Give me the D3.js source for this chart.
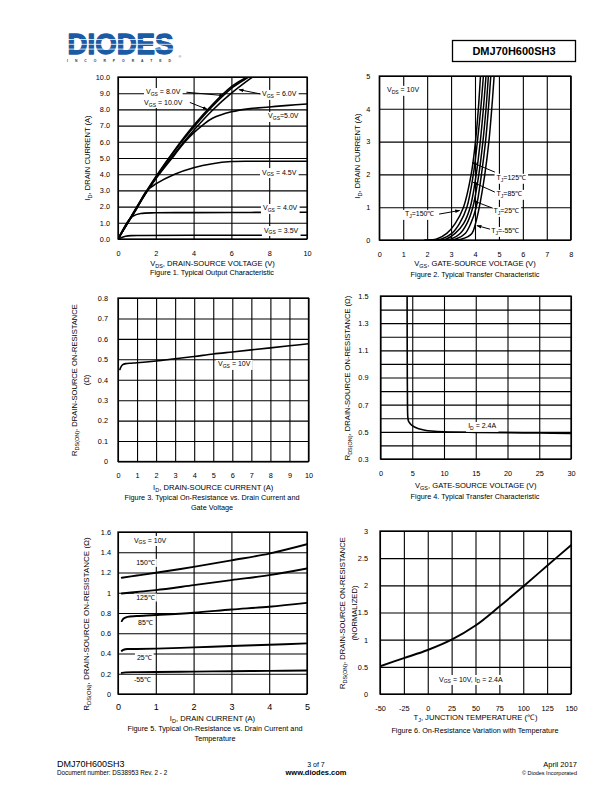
<!DOCTYPE html>
<html><head><meta charset="utf-8">
<script src="https://cdn.jsdelivr.net/npm/d3@7"></script>
<style>
body{margin:0;background:#fff}
svg{display:block}
text{font-family:"Liberation Sans",Arial,Helvetica,sans-serif;fill:#000}
</style>
</head><body>
<svg id="page" width="612" height="792"></svg>
<script>
// ---------------- DATA ----------------
// Figure 1: ID vs VDS
const fig1XTicks = [0, 2, 4, 6, 8, 10];
const fig1XLabels = ["0", "2", "4", "6", "8", "10"];
const fig1YTicks = [0, 1, 2, 3, 4, 5, 6, 7, 8, 9, 10];
const fig1YLabels = ["0.0", "1.0", "2.0", "3.0", "4.0", "5.0", "6.0", "7.0", "8.0", "9.0", "10.0"];
const fig1Vgs10 = [[0,0],[0.5,1.0],[1,2.0],[1.5,2.95],[2,3.85],[3,5.5],[4,7.0],[5,8.3],[6,9.4],[6.8,10.0],[7,10.2]];
const fig1Vgs8  = [[0,0],[0.5,0.98],[1,1.95],[1.5,2.9],[2,3.8],[3,5.45],[4,6.9],[5,8.2],[6,9.3],[6.9,10.0],[7.1,10.2]];
const fig1Vgs6  = [[0,0],[0.5,0.97],[1,1.93],[1.5,2.88],[2,3.75],[3,5.3],[4,6.7],[5,7.95],[6,9.0],[7,9.9],[7.3,10.15]];
const fig1Vgs5  = [[0,0],[0.5,0.97],[1,1.93],[1.5,2.88],[2,3.72],[3,5.2],[3.5,5.95],[4,6.55],[4.5,7.05],[5,7.45],[6,7.85],[7,8.05],[8,8.15],[9,8.25],[10,8.33]];
const fig1Vgs45 = [[0,0],[0.5,0.97],[1,1.9],[1.5,2.95],[2,3.4],[3,4.0],[4,4.4],[5,4.65],[6,4.78],[7,4.8],[8,4.8],[10,4.8]];
const fig1Vgs40 = [[0,0],[0.3,0.65],[0.5,1.05],[0.8,1.42],[1.2,1.57],[2,1.62],[4,1.63],[7,1.64],[10,1.65]];
const fig1Vgs35 = [[0,0],[0.2,0.1],[0.4,0.17],[0.7,0.21],[1.2,0.22],[4,0.23],[10,0.23]];

// Figure 2: ID vs VGS (transfer)
const fig2XTicks = [0, 1, 2, 3, 4, 5, 6, 7, 8];
const fig2XLabels = ["0", "1", "2", "3", "4", "5", "6", "7", "8"];
const fig2YTicks = [0, 1, 2, 3, 4, 5];
const fig2YLabels = ["0", "1", "2", "3", "4", "5"];
const fig2T150 = [[1.9,0],[2.4,0.03],[2.82,0.2],[3.17,0.5],[3.52,1.0],[3.84,2.0],[4.02,3.0],[4.14,4.0],[4.23,5.0],[4.25,5.2]];
const fig2T125 = [[2.1,0],[2.6,0.03],[3.03,0.2],[3.35,0.5],[3.66,1.0],[3.93,2.0],[4.1,3.0],[4.24,4.0],[4.35,5.0],[4.37,5.2]];
const fig2T85  = [[2.3,0],[2.8,0.03],[3.17,0.2],[3.52,0.5],[3.8,1.0],[4.05,2.0],[4.22,3.0],[4.35,4.0],[4.46,5.0],[4.48,5.2]];
const fig2T50  = [[2.5,0],[3.0,0.03],[3.38,0.2],[3.66,0.5],[3.91,1.0],[4.16,2.0],[4.33,3.0],[4.46,4.0],[4.56,5.0],[4.58,5.2]];
const fig2T25  = [[2.7,0],[3.2,0.03],[3.59,0.2],[3.82,0.5],[4.05,1.0],[4.27,2.0],[4.44,3.0],[4.56,4.0],[4.66,5.0],[4.68,5.2]];
const fig2Tm55 = [[3.0,0],[3.45,0.03],[3.87,0.2],[4.02,0.5],[4.18,1.0],[4.41,2.0],[4.58,3.0],[4.7,4.0],[4.8,5.0],[4.82,5.2]];

// Figure 3: RDS(ON) vs ID
const fig3XTicks = [0, 1, 2, 3, 4, 5, 6, 7, 8, 9, 10];
const fig3XLabels = ["0", "1", "2", "3", "4", "5", "6", "7", "8", "9", "10"];
const fig3YTicks = [0, 0.1, 0.2, 0.3, 0.4, 0.5, 0.6, 0.7, 0.8];
const fig3YLabels = ["0", "0.1", "0.2", "0.3", "0.4", "0.5", "0.6", "0.7", "0.8"];
const fig3Rds = [[0.1,0.45],[0.15,0.462],[0.25,0.474],[0.4,0.479],[0.7,0.481],[1,0.483],[2,0.492],[3,0.503],[4,0.514],[5,0.526],[6,0.536],[7,0.546],[8,0.556],[9,0.566],[10,0.576]];

// Figure 4: RDS(ON) vs VGS
const fig4XTicks = [0, 5, 10, 15, 20, 25, 30];
const fig4XLabels = ["0", "5", "10", "15", "20", "25", "30"];
const fig4YGrid = [0.3, 0.4, 0.5, 0.6, 0.7, 0.8, 0.9, 1.0, 1.1, 1.2, 1.3, 1.4, 1.5];
const fig4YTicks = [0.3, 0.5, 0.7, 0.9, 1.1, 1.3, 1.5];
const fig4YLabels = ["0.3", "0.5", "0.7", "0.9", "1.1", "1.3", "1.5"];
const fig4Rds = [[4.19,1.5],[4.2,1.2],[4.22,0.9],[4.25,0.7],[4.3,0.61],[4.4,0.58],[4.6,0.565],[5,0.545],[6,0.522],[7,0.512],[8,0.506],[10,0.5],[15,0.496],[20,0.494],[25,0.491],[30,0.489]];

// Figure 5: RDS(ON) vs ID and temperature
const fig5XTicks = [0, 1, 2, 3, 4, 5];
const fig5XLabels = ["0", "1", "2", "3", "4", "5"];
const fig5YTicks = [0, 0.2, 0.4, 0.6, 0.8, 1.0, 1.2, 1.4, 1.6];
const fig5YLabels = ["0", "0.2", "0.4", "0.6", "0.8", "1", "1.2", "1.4", "1.6"];
const fig5T150 = [[0.1,1.148],[0.5,1.17],[1,1.197],[2,1.256],[3,1.32],[4,1.387],[5,1.479]];
const fig5T125 = [[0.1,0.993],[0.5,1.008],[1,1.026],[2,1.075],[3,1.125],[4,1.174],[5,1.24]];
const fig5T85  = [[0.1,0.72],[0.15,0.745],[0.25,0.762],[0.5,0.77],[1,0.78],[2,0.803],[3,0.834],[4,0.862],[5,0.9]];
const fig5T25  = [[0.1,0.426],[0.15,0.437],[0.25,0.444],[0.5,0.445],[1,0.448],[2,0.46],[3,0.474],[4,0.486],[5,0.5]];
const fig5Tm55 = [[0.1,0.208],[0.2,0.214],[0.5,0.216],[1,0.218],[2,0.221],[3,0.225],[4,0.228],[5,0.232]];

// Figure 6: normalized RDS(ON) vs TJ
const fig6XTicks = [-50, -25, 0, 25, 50, 75, 100, 125, 150];
const fig6XLabels = ["-50", "-25", "0", "25", "50", "75", "100", "125", "150"];
const fig6YTicks = [0, 0.5, 1, 1.5, 2, 2.5, 3];
const fig6YLabels = ["0", "0.5", "1", "1.5", "2", "2.5", "3"];
const fig6Rds = [[-50,0.51],[-25,0.66],[0,0.81],[25,1.0],[50,1.26],[75,1.61],[100,1.98],[125,2.36],[150,2.74]];

// ---------------- DRAWING ----------------
const svg = d3.select("#page");
const FONT = '"Liberation Sans",Arial,Helvetica,sans-serif';

function rich(sel, parts, fs) {
  parts.forEach((p, i) => {
    const ts = sel.append("tspan").text(p.t);
    if (p.sub) { ts.attr("font-size", fs * 0.72).attr("dy", fs * 0.28); }
    else if (i > 0 && parts[i - 1].sub) { ts.attr("dy", -fs * 0.28); }
  });
  return sel;
}

// arrow marker
const defs = svg.append("defs");
defs.append("marker").attr("id", "arr").attr("viewBox", "0 0 10 10").attr("refX", 9).attr("refY", 5)
  .attr("markerWidth", 5).attr("markerHeight", 5).attr("orient", "auto-start-reverse")
  .append("path").attr("d", "M0,1.5 L10,5 L0,8.5 z").attr("fill", "#000");

let clipId = 0;
function chart(c) {
  const g = svg.append("g");
  const x = d3.scaleLinear().domain(c.xDomain).range([c.left, c.right]);
  const y = d3.scaleLinear().domain(c.yDomain).range([c.bottom, c.top]);
  const W = c.right - c.left, H = c.bottom - c.top;

  // grid via axes
  g.append("g").attr("transform", `translate(0,${c.bottom})`)
    .call(d3.axisBottom(x).tickValues(c.xGrid).tickSize(-H).tickFormat(""))
    .call(s => { s.select(".domain").remove(); s.selectAll("line").attr("stroke", "#000").attr("stroke-width", 1.1); });
  g.append("g").attr("transform", `translate(${c.left},0)`)
    .call(d3.axisLeft(y).tickValues(c.yGrid).tickSize(-W).tickFormat(""))
    .call(s => { s.select(".domain").remove(); s.selectAll("line").attr("stroke", "#000").attr("stroke-width", 1.1); });

  // tick labels
  g.append("g").attr("transform", `translate(0,${c.bottom})`)
    .call(d3.axisBottom(x).tickValues(c.xTicks).tickSize(0).tickPadding(c.xPad).tickFormat((d, i) => c.xLabels[i]))
    .call(s => { s.select(".domain").remove(); s.selectAll("text").attr("font-family", FONT).attr("font-size", c.xfs || 7.3).attr("fill", "#000"); });
  g.append("g").attr("transform", `translate(${c.left},0)`)
    .call(d3.axisLeft(y).tickValues(c.yTicks).tickSize(0).tickPadding(c.yPad).tickFormat((d, i) => c.yLabels[i]))
    .call(s => { s.select(".domain").remove(); s.selectAll("text").attr("font-family", FONT).attr("font-size", c.yfs || 7.3).attr("fill", "#000"); });

  // border
  g.append("rect").attr("x", c.left).attr("y", c.top).attr("width", W).attr("height", H)
    .attr("fill", "none").attr("stroke", "#000").attr("stroke-width", 1.3);

  // curves
  const id = "clip" + (clipId++);
  defs.append("clipPath").attr("id", id).append("rect")
    .attr("x", c.left).attr("y", c.top).attr("width", W).attr("height", H);
  const line = d3.line().x(d => x(d[0])).y(d => y(d[1])).curve(d3.curveCatmullRom.alpha(0.5));
  const cg = g.append("g").attr("clip-path", `url(#${id})`);
  c.series.forEach(s => {
    cg.append("path").attr("d", line(s)).attr("fill", "none").attr("stroke", "#000")
      .attr("stroke-width", c.lw || 1.6).attr("stroke-linejoin", "round").attr("stroke-linecap", "round");
  });

  // annotations
  const fs = c.afs || 7;
  (c.notes || []).forEach(n => {
    const t = g.append("text").attr("x", x(n.x)).attr("y", y(n.y)).attr("font-size", fs);
    rich(t, n.parts, fs);
    if (n.bg !== false) {
      const b = t.node().getBBox();
      g.insert("rect", () => t.node()).attr("x", b.x - 2).attr("y", b.y - 0.5).attr("width", b.width + 4).attr("height", b.height + 1).attr("fill", "#fff");
    }
    if (n.arrow) {
      g.append("line").attr("x1", x(n.arrow[0])).attr("y1", y(n.arrow[1]))
        .attr("x2", x(n.arrow[2])).attr("y2", y(n.arrow[3]))
        .attr("stroke", "#000").attr("stroke-width", 1).attr("marker-end", "url(#arr)");
    }
  });

  // axis titles
  const tfs = 7.6;
  const xt = g.append("text").attr("x", (c.left + c.right) / 2).attr("y", c.xTitleY).attr("text-anchor", "middle").attr("font-size", tfs);
  rich(xt, c.xTitle, tfs);
  c.yTitles.forEach(yt => {
    const t = g.append("text").attr("transform", `translate(${yt.x},${yt.cy}) rotate(-90)`).attr("text-anchor", "middle").attr("font-size", yt.fs || tfs);
    rich(t, yt.parts, yt.fs || tfs);
  });
  // captions
  c.caption.forEach(cp => {
    g.append("text").attr("x", cp.cx).attr("y", cp.y).attr("text-anchor", "middle").attr("font-size", 7.3).text(cp.t);
  });
}

const vgs = (v) => [{t: "V"}, {t: "GS", sub: true}, {t: v}];
const tj = (v) => [{t: "T"}, {t: "J", sub: true}, {t: v}];
const rdsTitle = (tail) => [{t: "R"}, {t: "DS(ON)", sub: true}, {t: ", DRAIN-SOURCE ON-RESISTANCE" + tail}];

// Figure 1
chart({
  left: 118, right: 307, top: 77, bottom: 239, xDomain: [0, 10], yDomain: [0, 10],
  xGrid: fig1XTicks, yGrid: fig1YTicks, xTicks: fig1XTicks, xLabels: fig1XLabels, yTicks: fig1YTicks, yLabels: fig1YLabels,
  xPad: 12, yPad: 8,
  series: [fig1Vgs10, fig1Vgs8, fig1Vgs6, fig1Vgs5, fig1Vgs45, fig1Vgs40, fig1Vgs35], lw: 1.6,
  notes: [
    {x: 1.48, y: 8.92, parts: vgs(" = 8.0V"), arrow: [3.62, 9.06, 5.6, 8.85]},
    {x: 1.38, y: 8.30, parts: vgs(" = 10.0V"), arrow: [3.8, 8.43, 4.72, 8.0]},
    {x: 7.62, y: 8.80, parts: vgs(" = 6.0V"), arrow: [7.55, 8.95, 6.4, 9.22]},
    {x: 7.94, y: 7.44, parts: vgs("=5.0V")},
    {x: 7.62, y: 3.98, parts: vgs(" = 4.5V")},
    {x: 7.67, y: 1.76, parts: vgs(" = 4.0V")},
    {x: 7.72, y: 0.40, parts: vgs(" = 3.5V")}
  ],
  xTitle: [{t: "V"}, {t: "DS", sub: true}, {t: ", DRAIN-SOURCE VOLTAGE (V)"}], xTitleY: 266,
  yTitles: [{x: 90, cy: 158, parts: [{t: "I"}, {t: "D", sub: true}, {t: ", DRAIN CURRENT  (A)"}]}],
  caption: [{cx: 212, y: 275, t: "Figure 1. Typical Output Characteristic"}]
});

// Figure 2
chart({
  left: 379.3, right: 570.7, top: 76, bottom: 240, xDomain: [0, 8], yDomain: [0, 5],
  xGrid: fig2XTicks, yGrid: fig2YTicks, xTicks: fig2XTicks, xLabels: fig2XLabels, yTicks: fig2YTicks, yLabels: fig2YLabels,
  xPad: 11.5, yPad: 9,
  series: [fig2T150, fig2T125, fig2T85, fig2T50, fig2T25, fig2Tm55], lw: 1.5,
  notes: [
    {x: 0.32, y: 4.5, parts: [{t: "V"}, {t: "DS", sub: true}, {t: " = 10V"}]},
    {x: 4.9, y: 1.82, parts: tj("=125\u2103"), arrow: [4.83, 2.07, 3.88, 2.36]},
    {x: 4.9, y: 1.33, parts: tj("=85\u2103"), arrow: [4.83, 1.46, 3.92, 1.76]},
    {x: 4.77, y: 0.81, parts: tj("=25\u2103"), arrow: [4.74, 0.97, 3.95, 1.19]},
    {x: 4.68, y: 0.20, parts: tj("=-55\u2103"), arrow: [4.63, 0.33, 4.08, 0.44]},
    {x: 1.07, y: 0.72, parts: tj("=150\u2103"), arrow: [2.5, 0.79, 3.36, 0.9]}
  ],
  xTitle: [{t: "V"}, {t: "GS", sub: true}, {t: ", GATE-SOURCE VOLTAGE (V)"}], xTitleY: 266,
  yTitles: [{x: 360, cy: 156, parts: [{t: "I"}, {t: "D", sub: true}, {t: ", DRAIN CURRENT  (A)"}]}],
  caption: [{cx: 475, y: 277, t: "Figure 2. Typical Transfer Characteristic"}]
});

// Figure 3
chart({
  left: 118, right: 308.5, top: 298, bottom: 461.5, xDomain: [0, 10], yDomain: [0, 0.8],
  xGrid: fig3XTicks, yGrid: fig3YTicks, xTicks: fig3XTicks, xLabels: fig3XLabels, yTicks: fig3YTicks, yLabels: fig3YLabels,
  xPad: 11, yPad: 10,
  series: [fig3Rds], lw: 1.6,
  notes: [{x: 5.25, y: 0.465, parts: vgs(" = 10V")}],
  xTitle: [{t: "I"}, {t: "D", sub: true}, {t: ", DRAIN-SOURCE CURRENT (A)"}], xTitleY: 490,
  yTitles: [{x: 77, cy: 380, parts: rdsTitle("")}, {x: 89, cy: 380, parts: [{t: "(\u03A9)"}]}],
  caption: [{cx: 212, y: 500, t: "Figure 3. Typical On-Resistance vs. Drain Current and"}, {cx: 212, y: 510, t: "Gate Voltage"}]
});

// Figure 4
chart({
  left: 380.5, right: 571, top: 296, bottom: 459, xDomain: [0, 30], yDomain: [0.3, 1.5],
  xGrid: fig4XTicks, yGrid: fig4YGrid, xTicks: fig4XTicks, xLabels: fig4XLabels, yTicks: fig4YTicks, yLabels: fig4YLabels,
  xPad: 11.5, yPad: 12,
  series: [fig4Rds], lw: 1.6,
  notes: [{x: 13.8, y: 0.525, parts: [{t: "I"}, {t: "D", sub: true}, {t: " = 2.4A"}]}],
  xTitle: [{t: "V"}, {t: "GS", sub: true}, {t: ", GATE-SOURCE VOLTAGE (V)"}], xTitleY: 488,
  yTitles: [{x: 350, cy: 378, parts: rdsTitle(" (\u03A9)")}],
  caption: [{cx: 475, y: 499, t: "Figure 4. Typical Transfer Characteristic"}]
});

// Figure 5
chart({
  left: 118, right: 307, top: 532, bottom: 694, xDomain: [0, 5], yDomain: [0, 1.6],
  xGrid: fig5XTicks, yGrid: fig5YTicks, xTicks: fig5XTicks, xLabels: fig5XLabels, yTicks: fig5YTicks, yLabels: fig5YLabels,
  xPad: 10, yPad: 7, xfs: 9,
  series: [fig5T150, fig5T125, fig5T85, fig5T25, fig5Tm55], lw: 1.9,
  notes: [
    {x: 0.42, y: 1.496, parts: vgs(" = 10V")},
    {x: 0.48, y: 1.27, parts: [{t: "150\u2103"}]},
    {x: 0.48, y: 0.928, parts: [{t: "125\u2103"}]},
    {x: 0.53, y: 0.677, parts: [{t: "85\u2103"}]},
    {x: 0.50, y: 0.34, parts: [{t: "25\u2103"}]},
    {x: 0.42, y: 0.123, parts: [{t: "-55\u2103"}]}
  ],
  xTitle: [{t: "I"}, {t: "D", sub: true}, {t: ", DRAIN CURRENT (A)"}], xTitleY: 721,
  yTitles: [{x: 89, cy: 624, fs: 8, parts: rdsTitle(" (\u03A9)")}],
  caption: [{cx: 215, y: 731, t: "Figure 5. Typical On-Resistance vs. Drain Current and"}, {cx: 215, y: 741, t: "Temperature"}]
});

// Figure 6
chart({
  left: 380, right: 571, top: 531, bottom: 694, xDomain: [-50, 150], yDomain: [0, 3],
  xGrid: fig6XTicks, yGrid: fig6YTicks, xTicks: fig6XTicks, xLabels: fig6XLabels, yTicks: fig6YTicks, yLabels: fig6YLabels,
  xPad: 11.5, yPad: 12,
  series: [fig6Rds], lw: 1.9,
  notes: [{x: 11.8, y: 0.23, parts: [{t: "V"}, {t: "GS", sub: true}, {t: " = 10V, I"}, {t: "D", sub: true}, {t: " = 2.4A"}]}],
  xTitle: [{t: "T"}, {t: "J", sub: true}, {t: ", JUNCTION TEMPERATURE (\u2103)"}], xTitleY: 720,
  yTitles: [{x: 345, cy: 613, parts: rdsTitle("")}, {x: 357, cy: 613, parts: [{t: "(NORMALIZED)"}]}],
  caption: [{cx: 475, y: 733, t: "Figure 6. On-Resistance Variation with Temperature"}]
});

// ---------------- HEADER / FOOTER ----------------
const hdr = svg.append("g");
hdr.append("text").attr("x", 67.5).attr("y", 54).attr("font-size", 29).attr("font-weight", "bold")
  .attr("textLength", 106).attr("lengthAdjust", "spacingAndGlyphs")
  .attr("fill", "#1b5aa5").style("fill", "#1b5aa5").attr("stroke", "#1b5aa5").attr("stroke-width", 1.3)
  .attr("stroke-linejoin", "round").text("DIODES");
[39.5, 44.3, 49.1].forEach(yy => hdr.append("line").attr("x1", 66).attr("x2", 176).attr("y1", yy).attr("y2", yy).attr("stroke", "#fff").attr("stroke-width", 0.8));
hdr.append("text").attr("x", 67).attr("y", 62).attr("font-size", 3.4).attr("font-weight", "bold")
  .attr("textLength", 104).attr("fill", "#333").style("fill", "#333").text("INCORPORATED");
hdr.append("text").attr("x", 178.5).attr("y", 58).attr("font-size", 3.6).attr("fill", "#1b5aa5").style("fill", "#1b5aa5").text("\u00AE");
hdr.append("rect").attr("x", 452.5).attr("y", 40.5).attr("width", 123).attr("height", 21).attr("fill", "none").attr("stroke", "#000").attr("stroke-width", 1.3);
hdr.append("text").attr("x", 514).attr("y", 55).attr("text-anchor", "middle").attr("font-size", 11).attr("font-weight", "bold").text("DMJ70H600SH3");

const ftr = svg.append("g");
ftr.append("text").attr("x", 57).attr("y", 767).attr("font-size", 9).text("DMJ70H600SH3");
ftr.append("text").attr("x", 57).attr("y", 775).attr("font-size", 6.3).text("Document number: DS38953  Rev. 2 - 2");
ftr.append("text").attr("x", 316).attr("y", 767).attr("text-anchor", "middle").attr("font-size", 7).text("3 of 7");
ftr.append("text").attr("x", 316).attr("y", 775).attr("text-anchor", "middle").attr("font-size", 7.5).attr("font-weight", "bold").text("www.diodes.com");
ftr.append("text").attr("x", 577).attr("y", 767).attr("text-anchor", "end").attr("font-size", 7.5).text("April 2017");
ftr.append("text").attr("x", 577).attr("y", 775).attr("text-anchor", "end").attr("font-size", 5.5).text("\u00A9 Diodes Incorporated");
</script>
</body></html>
